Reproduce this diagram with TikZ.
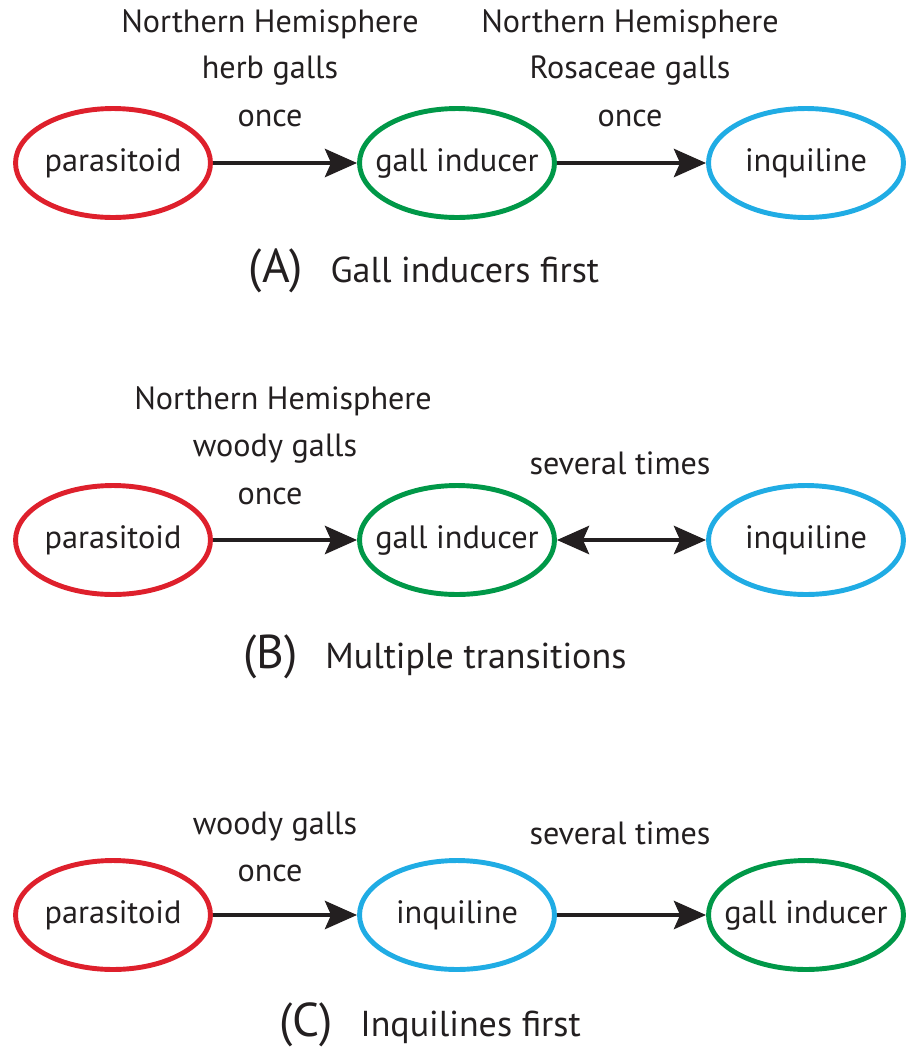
\documentclass[tikz,border=0pt]{standalone}
\usepackage{fontspec}
\setmainfont{PT Sans}
\usetikzlibrary{arrows.meta,shapes.geometric}
\definecolor{cred}{RGB}{222,32,44}
\definecolor{cgreen}{RGB}{0,152,72}
\definecolor{cblue}{RGB}{32,172,228}
\definecolor{ink}{RGB}{35,31,32}
\newcommand\ovtxt[1]{\makebox[0pt][c]{#1}}
\tikzset{
  px/.style={x=0.02cm,y=-0.02cm},
  oval/.style={ellipse, line width=2.8pt, minimum width=3.9cm, minimum height=2.18cm, inner sep=0pt, font=\fontsize{18.4}{20}\selectfont, text=ink},
  lbl/.style={font=\fontsize{18.3}{20}\selectfont, text=ink, inner sep=0pt},
  capt/.style={font=\fontsize{20.5}{22}\selectfont, text=ink, inner sep=0pt},
  conn/.style={line width=2.8pt, draw=ink, -{Stealth[length=0.64cm,width=0.56cm,inset=0.12cm]}},
  bconn/.style={line width=2.8pt, draw=ink, {Stealth[length=0.64cm,width=0.56cm,inset=0.12cm]}-{Stealth[length=0.64cm,width=0.56cm,inset=0.12cm]}}
}
\begin{document}
\begin{tikzpicture}[px]
\useasboundingbox (0,0) rectangle (906,1049);
% Row A
\node[oval, draw=cred] (pA) at (113,163) {\ovtxt{parasitoid}};
\node[oval, draw=cgreen] (gA) at (457,163) {\ovtxt{gall inducer}};
\node[oval, draw=cblue] (iA) at (806,163) {\ovtxt{inquiline}};
\draw[conn] (pA) -- (gA);
\draw[conn] (gA) -- (iA);
\node[lbl] (a1) at (270,24) {Northern Hemisphere};
\node[lbl] (a2) at (270,71) {herb galls};
\node[lbl] (a3) at (270,118) {once};
\node[lbl] (a4) at (630,24) {Northern Hemisphere};
\node[lbl] (a5) at (630,71) {Rosaceae galls};
\node[lbl] (a6) at (630,118) {once};
\node[capt] (capA) at (424,271) {{\fontsize{27}{29}\selectfont (A)}\hspace{0.55cm}Gall inducers first};
% Row B
\node[oval, draw=cred] (pB) at (113,540) {\ovtxt{parasitoid}};
\node[oval, draw=cgreen] (gB) at (457,540) {\ovtxt{gall inducer}};
\node[oval, draw=cblue] (iB) at (806,540) {\ovtxt{inquiline}};
\draw[conn] (pB) -- (gB);
\draw[bconn] (gB) -- (iB);
\node[lbl] (b1) at (283,401) {Northern Hemisphere};
\node[lbl] (b2) at (275,449) {woody galls};
\node[lbl] (b3) at (270,496) {once};
\node[lbl] (b4) at (620,463) {several times};
\node[capt] (capB) at (435,657) {{\fontsize{27}{29}\selectfont (B)}\hspace{0.55cm}Multiple transitions};
% Row C
\node[oval, draw=cred] (pC) at (113,915) {\ovtxt{parasitoid}};
\node[oval, draw=cblue] (iC) at (457,915) {\ovtxt{inquiline}};
\node[oval, draw=cgreen] (gC) at (806,915) {\ovtxt{gall inducer}};
\draw[conn] (pC) -- (iC);
\draw[conn] (iC) -- (gC);
\node[lbl] (c1) at (275,827) {woody galls};
\node[lbl] (c2) at (270,873) {once};
\node[lbl] (c4) at (620,833) {several times};
\node[capt] (capC) at (430,1025) {{\fontsize{27}{29}\selectfont (C)}\hspace{0.55cm}Inquilines first};
\end{tikzpicture}
\end{document}
